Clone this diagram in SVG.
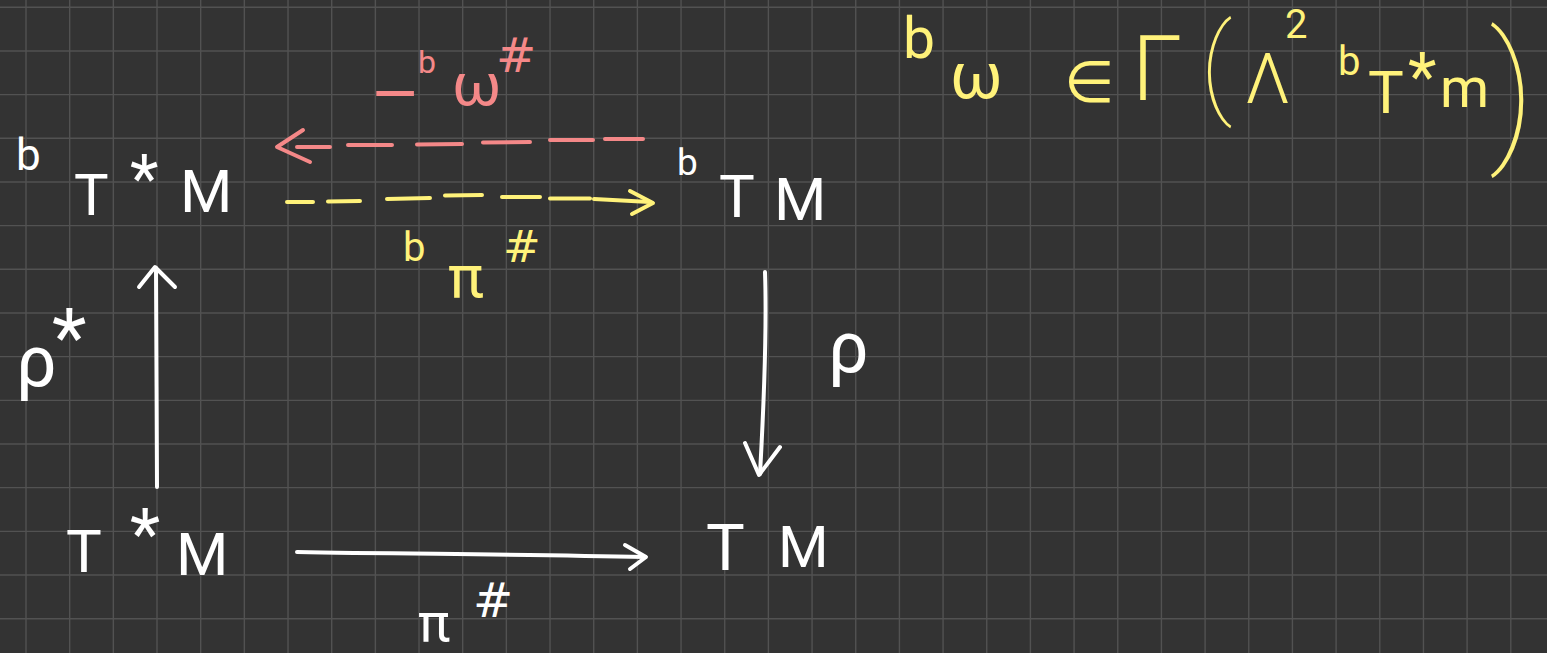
<svg xmlns="http://www.w3.org/2000/svg" width="1547" height="653" viewBox="0 0 1547 653">
<defs>
<style>
.w{fill:#ffffff}
.y{fill:#fff27a}
.r{fill:#f48888}
text{font-family:Roboto,"Liberation Sans",sans-serif;font-weight:400}
.dv{font-family:"DejaVu Sans",sans-serif}
.cw{stroke:#ffffff;stroke-width:4;fill:none;stroke-linecap:round;stroke-linejoin:round}
.cy{stroke:#fff27a;stroke-width:4;fill:none;stroke-linecap:round;stroke-linejoin:round}
.cr{stroke:#f48888;stroke-width:4;fill:none;stroke-linecap:round;stroke-linejoin:round}
.grid{stroke:#525252;stroke-width:1.4;fill:none}
</style>
</defs>
<rect width="1547" height="653" fill="#333333"/>
<g id="grid">
<path class="grid" d="M26,0V653M69.67,0V653M113.34,0V653M157.01,0V653M200.68,0V653M244.35,0V653M288.02,0V653M331.69,0V653M375.36,0V653M419.03,0V653M462.7,0V653M506.37,0V653M550.04,0V653M593.71,0V653M637.38,0V653M681.05,0V653M724.72,0V653M768.39,0V653M812.06,0V653M855.73,0V653M899.4,0V653M943.07,0V653M986.74,0V653M1030.41,0V653M1074.08,0V653M1117.75,0V653M1161.42,0V653M1205.09,0V653M1248.76,0V653M1292.43,0V653M1336.1,0V653M1379.77,0V653M1423.44,0V653M1467.11,0V653M1510.78,0V653"/>
<path class="grid" d="M0,7.3H1547M0,50.97H1547M0,94.64H1547M0,138.31H1547M0,181.98H1547M0,225.65H1547M0,269.32H1547M0,312.99H1547M0,356.66H1547M0,400.33H1547M0,444H1547M0,487.67H1547M0,531.34H1547M0,575.01H1547M0,618.68H1547"/>
</g>
<g id="connectors">
<g id="e-rhostar">
<path class="cw" d="M157,487 C157,420 156,330 156,268"/>
<path class="cw" d="M139,287 L155,267 L175,287"/>
</g>
<g id="e-rho">
<path class="cw" d="M765,272 C767,330 763,420 760,474"/>
<path class="cw" d="M745,443 L759,475 L780,447"/>
</g>
<g id="e-pisharp">
<path class="cw" d="M297,552 C400,554 520,554 645,557"/>
<path class="cw" d="M625,545 L646,557 L630,569"/>
</g>
<g id="e-bomega">
<path class="cr" d="M297,147 L330,147 M348,145 L392,145 M417,144.5 L462,144 M483,142.5 L530,142 M550,140 L593,140 M605,139 L643,139"/>
<path class="cr" d="M303,130 L277,147 L310,162"/>
</g>
<g id="e-bpi">
<path class="cy" d="M287,202 L313,202 M328,201.5 L360,201 M387,199 L430,198 M445,195.5 L482,195 M502,197 L540,197 M550,198.5 L590,198.5 M594,199 L650,202"/>
<path class="cy" d="M630,191 L653,203 L632,214"/>
</g>
</g>
<g id="n-bTstarM">
<text class="w"><tspan x="16" y="170" font-size="44">b</tspan><tspan x="74" y="215" font-size="58">T</tspan><tspan x="130" y="202" font-size="66">*</tspan><tspan x="180" y="212" font-size="60">M</tspan></text>
</g>
<g id="n-bTM">
<text class="w"><tspan x="677" y="175" font-size="37">b</tspan><tspan x="719" y="217" font-size="60">T</tspan><tspan x="774" y="220" font-size="60">M</tspan></text>
</g>
<g id="n-TstarM">
<text class="w"><tspan x="66" y="572" font-size="60">T</tspan><tspan x="130" y="558" font-size="70">*</tspan><tspan x="176" y="575" font-size="60">M</tspan></text>
</g>
<g id="n-TM">
<text class="w"><tspan x="706" y="570" font-size="65">T</tspan><tspan x="778" y="567" font-size="58">M</tspan></text>
</g>
<g id="l-rhostar">
<text class="w"><tspan x="16" y="386" font-size="72">ρ</tspan><tspan x="52" y="365" font-size="80">*</tspan></text>
</g>
<g id="l-rho">
<text class="w"><tspan x="828" y="372" font-size="72">ρ</tspan></text>
</g>
<g id="l-pisharp">
<text class="w"><tspan x="418" y="641" font-size="54">π</tspan><tspan class="dv" x="473" y="617" font-size="48">#</tspan></text>
</g>
<g id="l-bpisharp">
<text class="y"><tspan x="403" y="261" font-size="40">b</tspan><tspan x="448" y="297" font-size="60">π</tspan><tspan class="dv" x="503" y="262" font-size="45">#</tspan></text>
</g>
<g id="l-bomegasharp">
<text class="r"><tspan class="dv" x="370" y="112" font-size="60">−</tspan><tspan x="418" y="73" font-size="32">b</tspan><tspan x="452" y="105" font-size="60">ω</tspan><tspan class="dv" x="496" y="72" font-size="48">#</tspan></text>
</g>
<g id="formula">
<text class="y"><tspan x="903" y="58" font-size="57">b</tspan><tspan x="950" y="98" font-size="64">ω</tspan><tspan class="dv" x="1064" y="102" font-size="58">∈</tspan><tspan x="1132" y="100" font-size="91" font-weight="300">Γ</tspan><tspan x="1200" y="103" font-size="110" font-weight="100">(</tspan><tspan x="1245" y="103" font-size="70" font-weight="300">Λ</tspan><tspan x="1285" y="38" font-size="40">2</tspan><tspan x="1338" y="75" font-size="40">b</tspan><tspan x="1368" y="113" font-size="60">T</tspan><tspan x="1408" y="100" font-size="66">*</tspan><tspan x="1440" y="107" font-size="56">m</tspan><tspan x="1489" y="143" font-size="152" font-weight="100">)</tspan></text>
</g>
</svg>
